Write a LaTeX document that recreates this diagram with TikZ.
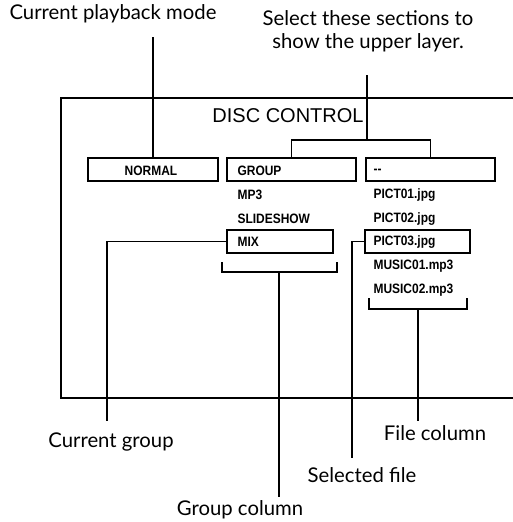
\documentclass[tikz,border=0pt]{standalone}
\usepackage{fontspec}
\setmainfont{Lato}
\newfontfamily\helv{Liberation Sans}
\newfontfamily\cond[FakeStretch=0.88]{Liberation Sans Bold}
\begin{document}
\begin{tikzpicture}[x=1pt,y=-1pt,line width=1.1pt,
  lbl/.style={font=\fontsize{20.3}{23}\selectfont,inner sep=0pt},
  itm/.style={font=\cond\fontsize{13.6}{14}\selectfont,inner sep=0pt,anchor=west},
  bx/.style={draw,inner sep=0pt,minimum height=23pt}]
\useasboundingbox (0,0) rectangle (513,522);
% outer frame
\draw (513,98) -- (61,98) -- (61,398) -- (513,398);
\node[font=\helv\fontsize{20}{22}\selectfont,inner sep=0pt] (title) at (288,116) {DISC CONTROL};
% boxes
\node[bx,minimum width=130pt] (normal) at (153,169.5) {};
\node[bx,minimum width=129pt] (group) at (291.5,169.5) {};
\node[bx,minimum width=129pt] (dash) at (430.5,169.5) {};
\node[bx,minimum width=106pt] (mix) at (280,241.5) {};
\node[bx,minimum width=105pt] (pict3) at (417.5,241.5) {};
% texts
\node[itm,anchor=center] (tnormal) at (151,171) {NORMAL};
\node[itm] (tgroup) at (237,171) {GROUP};
\node[itm] (tdash) at (373,171) {--};
\node[itm] (mp3) at (237,195) {MP3};
\node[itm] (slide) at (237,219) {SLIDESHOW};
\node[itm] (tmix) at (237,242) {MIX};
\node[itm] (p1) at (373,195) {PICT01.jpg};
\node[itm] (p2) at (373,219) {PICT02.jpg};
\node[itm] (tp3) at (373,242) {PICT03.jpg};
\node[itm] (m1) at (373,266) {MUSIC01.mp3};
\node[itm] (m2) at (373,290) {MUSIC02.mp3};
% labels
\node[lbl] (lmode) at (113,14) {Current playback mode};
\node[lbl,align=center] (lsel) at (368,31) {Select these sections to\\show the upper layer.};
\node[lbl] (lcg) at (111,442) {Current group};
\node[lbl] (lsf) at (362,475) {Selected file};
\node[lbl] (lgc) at (240,510) {Group column};
\node[lbl] (lfc) at (435,433) {File column};
% connectors
\coordinate (modetop) at (153,37);
\draw (modetop) -- (normal.north);
\coordinate (seltop) at (367,75);
\coordinate (selbar) at (367,140);
\draw (seltop) -- (selbar);
\draw (group.north) -- (group.north |- selbar) -- (dash.north |- selbar) -- (dash.north);
% current group
\coordinate (cgend) at (107,421);
\draw (mix.west) -| (cgend);
% selected file
\coordinate (sfend) at (352,458);
\draw (pict3.west) -| (sfend);
% group column bracket
\coordinate (gbl) at (222,262);
\coordinate (gbr) at (337,262);
\coordinate (gstem) at (279,272);
\coordinate (gend) at (279,497);
\draw (gbl) -- (gbl |- gstem) -- (gbr |- gstem) -- (gbr);
\draw (gstem) -- (gend);
% file column bracket
\coordinate (fbl) at (369,298);
\coordinate (fbr) at (467,298);
\coordinate (fstem) at (418,309);
\coordinate (fend) at (418,421);
\draw (fbl) -- (fbl |- fstem) -- (fbr |- fstem) -- (fbr);
\draw (fstem) -- (fend);
\end{tikzpicture}
\end{document}
